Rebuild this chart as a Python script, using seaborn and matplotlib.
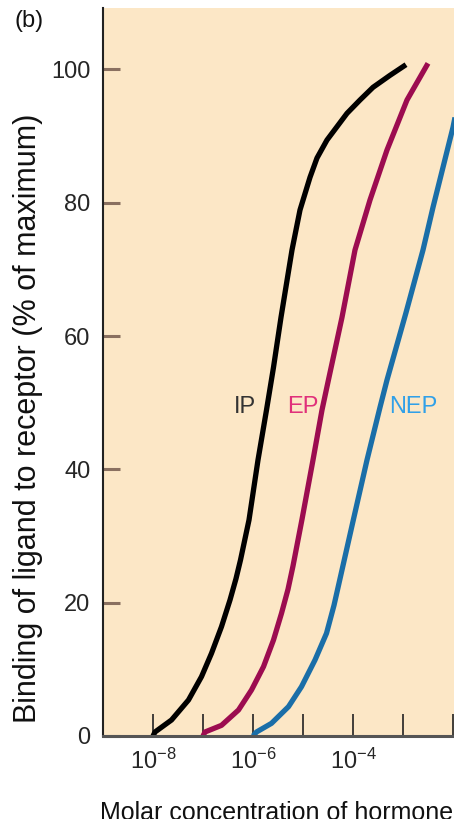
import numpy as np
import pandas as pd
import seaborn as sns
import matplotlib.pyplot as plt

# log10 of molar concentration and binding (% of maximum)
ip_logc = [-8.0, -7.96, -7.63, -7.29, -7.03, -6.83, -6.63, -6.46, -6.34, -6.25,
           -6.08, -5.90, -5.73, -5.59, -5.44, -5.22, -5.06, -4.86, -4.72, -4.52,
           -4.12, -3.86, -3.60, -3.26, -2.94]
ip_bind = [0, 0.6, 2.4, 5.4, 8.9, 12.4, 16.4, 20.4, 23.6, 26.4,
           32.4, 41.4, 48.9, 55.3, 62.8, 72.9, 78.9, 83.8, 86.7, 89.4,
           93.4, 95.4, 97.3, 99.1, 100.7]

ep_logc = [-7.0, -6.96, -6.63, -6.29, -6.03, -5.79, -5.59, -5.43, -5.30, -5.20,
           -5.02, -4.80, -4.62, -4.48, -4.22, -3.96, -3.66, -3.32, -2.92, -2.50]
ep_bind = [0, 0.6, 1.6, 3.9, 6.9, 10.4, 14.4, 18.4, 22.0, 25.5,
           32.5, 41.4, 48.9, 53.8, 62.8, 72.9, 80.4, 87.9, 95.4, 100.9]

nep_logc = [-6.0, -5.93, -5.63, -5.29, -5.03, -4.76, -4.53, -4.38, -4.0,
            -3.72, -3.46, -3.32, -2.94, -2.60, -2.40, -2.0, -1.9]
nep_bind = [0, 0.6, 1.9, 4.4, 7.4, 11.4, 15.4, 19.6, 32.2,
            41.4, 49.3, 53.4, 63.5, 72.9, 79.3, 91.3, 95.0]

x_ticks = [-9, -8, -7, -6, -5, -4, -3, -2]
x_labeled = [-8, -6, -4]
y_ticks = [0, 20, 40, 60, 80, 100]

sns.set_style("white")
plt.rcParams['font.family'] = ['Liberation Sans Narrow', 'Liberation Sans', 'DejaVu Sans']
plt.rcParams['mathtext.default'] = 'regular'

fig = plt.figure(figsize=(4.54, 8.19), dpi=100)
ax = fig.add_axes([103 / 454, 83 / 819, 351 / 454, 728 / 819])
ax.set_facecolor('#fce7c6')

curves = [
    (ip_logc, ip_bind, '#000000'),
    (ep_logc, ep_bind, '#9c0c50'),
    (nep_logc, nep_bind, '#1a6ea8'),
]
for logc, bind, col in curves:
    df = pd.DataFrame({"conc": 10.0 ** np.array(logc), "bind": bind})
    sns.lineplot(data=df, x="conc", y="bind", color=col, lw=3.8, sort=False,
                 estimator=None, ax=ax, solid_capstyle='butt',
                 solid_joinstyle='round')

ax.set_xscale('log')
ax.set_xlim(1e-9, 10 ** -1.98)
ax.set_ylim(0, 109.2)

ax.set_xticks([10.0 ** t for t in x_ticks])
ax.set_xticklabels(['$10^{%d}$' % t if t in x_labeled else '' for t in x_ticks])
ax.xaxis.set_minor_locator(plt.NullLocator())
ax.set_yticks(y_ticks)
ax.set_yticklabels([str(v) for v in y_ticks])

ax.tick_params(axis='x', direction='in', length=16, width=1.2, color='#222222',
               labelsize=17, pad=9, bottom=True)
ax.tick_params(axis='y', direction='in', length=12, width=2.2, color='#8a7060',
               labelsize=17, pad=9, left=True)

for side in ['top', 'right']:
    ax.spines[side].set_visible(False)
ax.spines['left'].set_color('#222222')
ax.spines['left'].set_linewidth(1.5)
ax.spines['bottom'].set_color('#555555')
ax.spines['bottom'].set_linewidth(2.2)

ax.set_xlabel('')
ax.set_ylabel('')

# curve names
ax.text(10 ** -6.16, 49.3, 'IP', color='#333333', fontsize=17, ha='center', va='center')
ax.text(10 ** -5.0, 49.3, 'EP', color='#e0307a', fontsize=17, ha='center', va='center')
ax.text(10 ** -2.8, 49.3, 'NEP', color='#30a0e8', fontsize=17, ha='center', va='center')

fig.text(28 / 454, 401 / 819, 'Binding of ligand to receptor (% of maximum)',
         rotation=90, ha='center', va='center', fontsize=22,
         family=['Liberation Sans', 'DejaVu Sans'], color='#111111')
fig.text(100 / 454, -1 / 819, 'Molar concentration of hormone', ha='left',
         va='baseline', fontsize=18, family=['Liberation Sans', 'DejaVu Sans'],
         color='#111111')
fig.text(14 / 454, 1 - 10 / 819, '(b)', ha='left', va='top', fontsize=17,
         color='#111111')

fig.savefig('out.png', dpi=100)
